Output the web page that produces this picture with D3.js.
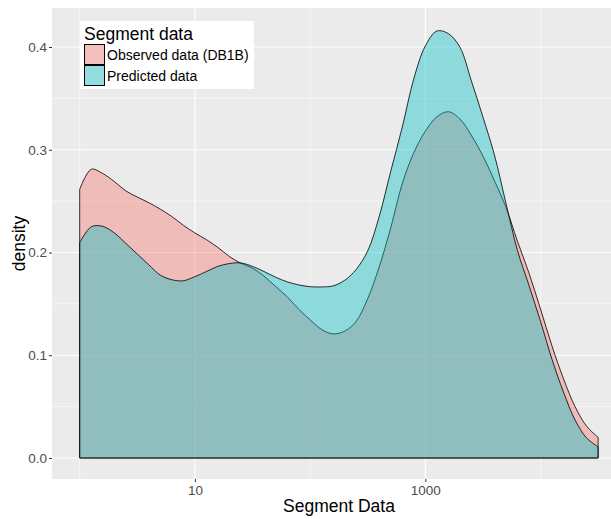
<!DOCTYPE html>
<html>
<head>
<meta charset="utf-8">
<script src="https://cdn.jsdelivr.net/npm/d3@7"></script>
<style>
  html, body { margin: 0; padding: 0; background: #fff; }
  svg { display: block; font-family: "Liberation Sans", Arial, sans-serif; }
</style>
</head>
<body>
<svg id="chart" width="611" height="519"></svg>
<script>
// Segment data values (x positions on log axis)
const segmentValues = [1, 1.26, 1.58, 2, 2.51, 3.16, 3.98, 5.01, 6.31, 7.94,
  10, 12.6, 15.8, 20, 25.1, 31.6, 39.8, 50.1, 63.1, 79.4,
  100, 126, 158, 200, 251, 316, 398, 501, 631, 794,
  1000, 1259, 1585, 1995, 2512, 3162, 3981, 5012, 6310, 7943,
  10000, 12589, 15849, 19953, 25119, 31623];

// Observed data (DB1B) density
const observedDensity = [0.2615, 0.281, 0.277, 0.269, 0.260, 0.254, 0.2485, 0.2422, 0.235, 0.2265,
  0.219, 0.2125, 0.205, 0.196, 0.1895, 0.1848, 0.177, 0.167, 0.157, 0.145,
  0.1345, 0.125, 0.1208, 0.1235, 0.133, 0.155, 0.186, 0.224, 0.267, 0.297,
  0.318, 0.332, 0.337, 0.330, 0.314, 0.294, 0.270, 0.244, 0.211, 0.180,
  0.145, 0.109, 0.077, 0.050, 0.031, 0.0201];

// Predicted data density
const predictedDensity = [0.2096, 0.225, 0.2255, 0.219, 0.209, 0.1985, 0.188, 0.178, 0.1735, 0.1725,
  0.1765, 0.1815, 0.1865, 0.1893, 0.1898, 0.1865, 0.1815, 0.176, 0.1715, 0.1685,
  0.1667, 0.1665, 0.1675, 0.173, 0.1835, 0.2015, 0.235, 0.279, 0.322, 0.369,
  0.401, 0.4155, 0.413, 0.400, 0.367, 0.332, 0.295, 0.248, 0.202, 0.168,
  0.133, 0.096, 0.064, 0.037, 0.0195, 0.011];

const seriesNames = ["Observed data (DB1B)", "Predicted data"];
const seriesColors = ["#F8766D", "#00BFC4"];
const yTicks = [0, 0.1, 0.2, 0.3, 0.4];
const yMinor = [0.05, 0.15, 0.25, 0.35];
const xTicks = [10, 1000, 100000];
const xMinor = [1, 100, 10000];
const legendTitle = "Segment data";
const xTitle = "Segment Data";
const yTitle = "density";

const svg = d3.select("#chart");
const panel = { left: 52, right: 626, top: 8, bottom: 479 };

// Log scale: 1 -> 79.7, 10 -> 194.9
const x = d3.scaleLog().domain([1, 10]).range([79.7, 194.9]);
const y = d3.scaleLinear().domain([0, 0.4]).range([458, 47]);

// panel background
svg.append("rect").attr("x", panel.left).attr("y", panel.top)
  .attr("width", panel.right - panel.left).attr("height", panel.bottom - panel.top)
  .attr("fill", "#EBEBEB");

const grid = svg.append("g");
yMinor.forEach(v => grid.append("line").attr("x1", panel.left).attr("x2", panel.right)
  .attr("y1", y(v)).attr("y2", y(v)).attr("stroke", "#fff").attr("stroke-width", 0.55));
xMinor.forEach(v => grid.append("line").attr("y1", panel.top).attr("y2", panel.bottom)
  .attr("x1", x(v)).attr("x2", x(v)).attr("stroke", "#fff").attr("stroke-width", 0.55));
yTicks.forEach(v => grid.append("line").attr("x1", panel.left).attr("x2", panel.right)
  .attr("y1", y(v)).attr("y2", y(v)).attr("stroke", "#fff").attr("stroke-width", 1.1));
xTicks.forEach(v => grid.append("line").attr("y1", panel.top).attr("y2", panel.bottom)
  .attr("x1", x(v)).attr("x2", x(v)).attr("stroke", "#fff").attr("stroke-width", 1.1));

// densities
const area = d3.area()
  .x((d, i) => x(segmentValues[i]))
  .y0(y(0))
  .y1(d => y(d))
  .curve(d3.curveCatmullRom.alpha(0.5));

[observedDensity, predictedDensity].forEach((series, k) => {
  svg.append("path")
    .attr("d", area(series) + "Z")
    .attr("fill", seriesColors[k])
    .attr("fill-opacity", 0.4)
    .attr("stroke", "#000")
    .attr("stroke-opacity", 0.8)
    .attr("stroke-width", 1)
    .attr("stroke-linejoin", "round");
});

// axes
const yAxis = svg.append("g").attr("transform", `translate(${panel.left},0)`)
  .call(d3.axisLeft(y).tickValues(yTicks).tickFormat(d3.format(".1f")).tickSize(3).tickPadding(2));
const xAxis = svg.append("g").attr("transform", `translate(0,${panel.bottom})`)
  .call(d3.axisBottom(x).tickValues(xTicks.filter(v => x(v) < 611)).tickFormat(d3.format("d")).tickSize(3).tickPadding(3));
[yAxis, xAxis].forEach(a => {
  a.select(".domain").remove();
  a.selectAll(".tick line").attr("stroke", "#333333").attr("stroke-width", 1);
  a.selectAll(".tick text").attr("fill", "#4D4D4D").style("font-size", "13.5px")
    .style("font-family", "'Liberation Sans', Arial, sans-serif");
});

// axis titles
svg.append("text").attr("x", (panel.left + panel.right) / 2).attr("y", 512)
  .attr("text-anchor", "middle").style("font-size", "17.5px").attr("fill", "#000").text(xTitle);
svg.append("text").attr("transform", `translate(25,${(panel.top + panel.bottom) / 2}) rotate(-90)`)
  .attr("text-anchor", "middle").style("font-size", "17.5px").attr("fill", "#000").text(yTitle);

// legend
const lg = svg.append("g");
lg.append("rect").attr("x", 80).attr("y", 21).attr("width", 174).attr("height", 68).attr("fill", "#fff");
lg.append("text").attr("x", 84).attr("y", 40).style("font-size", "17.5px").attr("fill", "#000").text(legendTitle);
seriesNames.forEach((name, k) => {
  const ky = 44.5 + k * 21;
  lg.append("rect").attr("x", 84.5).attr("y", ky).attr("width", 20).attr("height", 20)
    .attr("fill", "#F2F2F2");
  lg.append("rect").attr("x", 84.5).attr("y", ky).attr("width", 20).attr("height", 20)
    .attr("fill", seriesColors[k]).attr("fill-opacity", 0.4)
    .attr("stroke", "#000").attr("stroke-width", 1);
  lg.append("text").attr("x", 107).attr("y", ky + 15.5).style("font-size", "14px")
    .attr("fill", "#000").text(name);
});
</script>
</body>
</html>
